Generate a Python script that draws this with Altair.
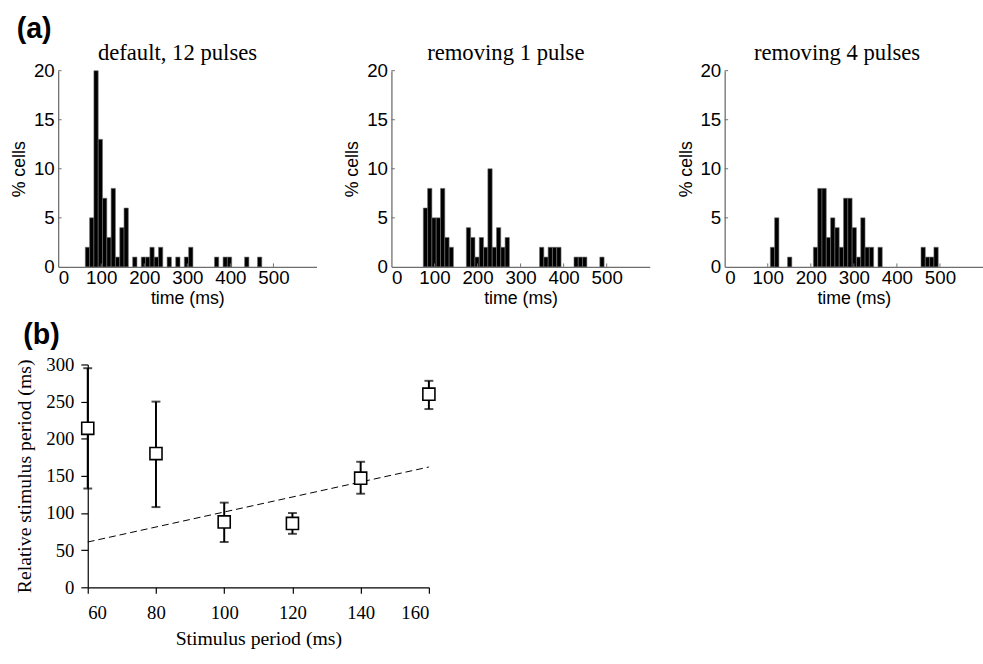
import altair as alt
import pandas as pd

# ---------------- data ----------------
BIN_W = 10  # ms, histogram bin width

# (a) default, 12 pulses : left edge of bins (ms) and % cells
p1_edges = [63, 73, 83, 93, 103, 113, 123, 133, 143, 153, 173, 193, 203, 213, 223,
            233, 253, 273, 293, 303, 363, 383, 393, 433, 463]
p1_pct = [2, 5, 20, 13, 7, 3, 8, 1, 4, 6, 1, 1, 1, 2, 1,
          2, 1, 1, 1, 2, 1, 1, 1, 1, 1]

# (a) removing 1 pulse
p2_edges = [74, 84, 94, 104, 114, 124, 134, 174, 184, 194, 204, 214, 224, 234, 244,
            254, 264, 344, 354, 364, 374, 384, 424, 434, 444, 484]
p2_pct = [6, 8, 5, 5, 8, 3, 2, 4, 3, 1, 3, 2, 10, 2, 4,
          2, 3, 2, 1, 2, 2, 2, 1, 1, 1, 1]

# (a) removing 4 pulses
p3_edges = [106, 116, 146, 206, 216, 226, 236, 246, 256, 266, 276, 286, 296, 306,
            316, 326, 336, 356, 456, 466, 476, 486]
p3_pct = [2, 5, 1, 2, 8, 8, 3, 5, 4, 2, 7, 7, 4, 1,
          5, 2, 2, 2, 2, 1, 1, 2]

hist_titles = ["default, 12 pulses", "removing 1 pulse", "removing 4 pulses"]
hist_x_ticks = [0, 100, 200, 300, 400, 500]
hist_y_ticks = [0, 5, 10, 15, 20]

# (b) relative stimulus period vs stimulus period
b_period = [60, 80, 100, 120, 140, 160]
b_mean = [214, 180, 88, 86, 147, 260]
b_low = [133, 108, 61, 72, 126, 240]
b_high = [295, 250, 114, 100, 169, 278]
fit_x = [60, 160]
fit_y = [61, 162]
b_x_ticks = [60, 80, 100, 120, 140, 160]
b_y_ticks = [0, 50, 100, 150, 200, 250, 300]

SANS = "Liberation Sans"
SERIF = "Liberation Serif"
AX_GRAY = "#6e6e6e"

# ---------------- panel (a) ----------------
def hist_panel(edges, pct, title, dx):
    df = pd.DataFrame({"t0": edges, "pct": pct})
    df["t1"] = df["t0"] + BIN_W
    df["base"] = 0
    xs = alt.Scale(domain=[0, 600], nice=False, zero=False)
    ys = alt.Scale(domain=[0, 20], nice=False)
    xax = alt.Axis(values=hist_x_ticks, title="time (ms)", ticks=False, grid=False,
                   domainColor=AX_GRAY, domainWidth=1.3, labelFont=SANS, labelFontSize=19,
                   labelColor="black", labelPadding=2, titleFont=SANS, titleFontSize=18,
                   titleFontWeight="normal", titlePadding=2, titleColor="black",
                   labelOverlap=False)
    yax = alt.Axis(values=hist_y_ticks, title="% cells", ticks=False, grid=False,
                   domainColor=AX_GRAY, domainWidth=1.3, labelFont=SANS, labelFontSize=19,
                   labelColor="black", labelPadding=4, titleFont=SANS, titleFontSize=18,
                   titleFontWeight="normal", titlePadding=5, titleColor="black",
                   labelOverlap=False)
    bars = alt.Chart(df).mark_rect(fill="black", stroke="#707070", strokeWidth=0.6).encode(
        x=alt.X("t0:Q", scale=xs, axis=xax),
        x2="t1",
        y=alt.Y("pct:Q", scale=ys, axis=yax),
        y2="base",
    )
    xt = pd.DataFrame({"t": hist_x_ticks[1:], "y0": 0, "y1": 0.35})
    xticks = alt.Chart(xt).mark_rule(color=AX_GRAY, strokeWidth=1).encode(
        x=alt.X("t:Q", scale=xs, axis=xax), y=alt.Y("y0:Q", scale=ys, axis=yax), y2="y1")
    yt = pd.DataFrame({"v": hist_y_ticks[1:], "x0": 0, "x1": 8})
    yticks = alt.Chart(yt).mark_rule(color=AX_GRAY, strokeWidth=1).encode(
        y=alt.Y("v:Q", scale=ys, axis=yax), x=alt.X("x0:Q", scale=xs, axis=xax), x2="x1")
    return alt.layer(bars, xticks, yticks).properties(
        width=262, height=199,
        title=alt.TitleParams(title, font=SERIF, fontSize=23, fontWeight="normal",
                              color="black", dx=dx, offset=-3),
    )

h1 = hist_panel(p1_edges, p1_pct, hist_titles[0], -10)
h2 = hist_panel(p2_edges, p2_pct, hist_titles[1], -15)
h3 = hist_panel(p3_edges, p3_pct, hist_titles[2], -17)

row_a = alt.hconcat(h1, h2, h3, spacing=27).properties(
    title=alt.TitleParams("(a)", anchor="start", font=SANS, fontSize=29,
                          fontWeight="bold", color="black", offset=-2, dx=6)
)

# ---------------- panel (b) ----------------
bdf = pd.DataFrame({"p": b_period, "m": b_mean, "lo": b_low, "hi": b_high})
fdf = pd.DataFrame({"x": fit_x, "y": fit_y})
bx = alt.Scale(domain=[60, 160], nice=False, zero=False)
by = alt.Scale(domain=[0, 300], nice=False)
bxax = alt.Axis(values=b_x_ticks, title="Stimulus period (ms)", grid=False,
                domainColor="black", tickColor="black", tickSize=6, domainWidth=1.2,
                tickWidth=1.2, labelFont=SERIF, labelFontSize=19, labelColor="black",
                labelPadding=11, titleFont=SERIF, titleFontSize=20, titleFontWeight="normal",
                titleColor="black", titlePadding=6, labelOverlap=False)
byax = alt.Axis(values=b_y_ticks, title="Relative stimulus period (ms)", grid=False,
                domainColor="black", tickColor="black", tickSize=7, domainWidth=1.2,
                tickWidth=1.2, labelFont=SERIF, labelFontSize=19, labelColor="black",
                labelPadding=7, titleFont=SERIF, titleFontSize=20, titleFontWeight="normal",
                titleColor="black", titlePadding=12, labelOverlap=False)

fit = alt.Chart(fdf).mark_line(color="black", strokeWidth=1, strokeDash=[7, 4]).encode(
    x=alt.X("x:Q", scale=bx, axis=bxax), y=alt.Y("y:Q", scale=by, axis=byax))
err = alt.Chart(bdf).mark_rule(color="black", strokeWidth=2).encode(
    x=alt.X("p:Q", scale=bx, axis=bxax), y=alt.Y("lo:Q", scale=by, axis=byax), y2="hi")
cap_lo = alt.Chart(bdf).mark_tick(color="black", orient="horizontal", size=9,
                                  thickness=2).encode(
    x=alt.X("p:Q", scale=bx, axis=bxax), y=alt.Y("lo:Q", scale=by, axis=byax))
cap_hi = alt.Chart(bdf).mark_tick(color="black", orient="horizontal", size=9,
                                  thickness=2).encode(
    x=alt.X("p:Q", scale=bx, axis=bxax), y=alt.Y("hi:Q", scale=by, axis=byax))
sq = alt.Chart(bdf).mark_square(fill="white", stroke="black", strokeWidth=1.6,
                                size=150, opacity=1, clip=False).encode(
    x=alt.X("p:Q", scale=bx, axis=bxax), y=alt.Y("m:Q", scale=by, axis=byax))

panel_b = alt.layer(fit, err, cap_lo, cap_hi, sq).properties(
    width=346, height=226,
    title=alt.TitleParams("(b)", anchor="start", frame="bounds", font=SANS, fontSize=29,
                          fontWeight="bold", color="black", offset=6, dx=9),
)

# invisible 1-px spacer so that panel (b) sits further right than panel (a)
spacer = alt.Chart(pd.DataFrame({"s": [0]})).mark_point(opacity=0).encode(
    x=alt.X("s:Q", axis=None), y=alt.Y("s:Q", axis=None)
).properties(width=1, height=1)

row_b = alt.hconcat(spacer, panel_b, spacing=29, bounds="flush")

chart = alt.vconcat(row_a, row_b, spacing=14).properties(
    padding={"left": 10, "top": 11, "right": 0, "bottom": 4}
).configure(background="white").configure_view(strokeWidth=0, stroke="transparent")

chart.save("out.html", embed_options={"renderer": "svg", "actions": False})
